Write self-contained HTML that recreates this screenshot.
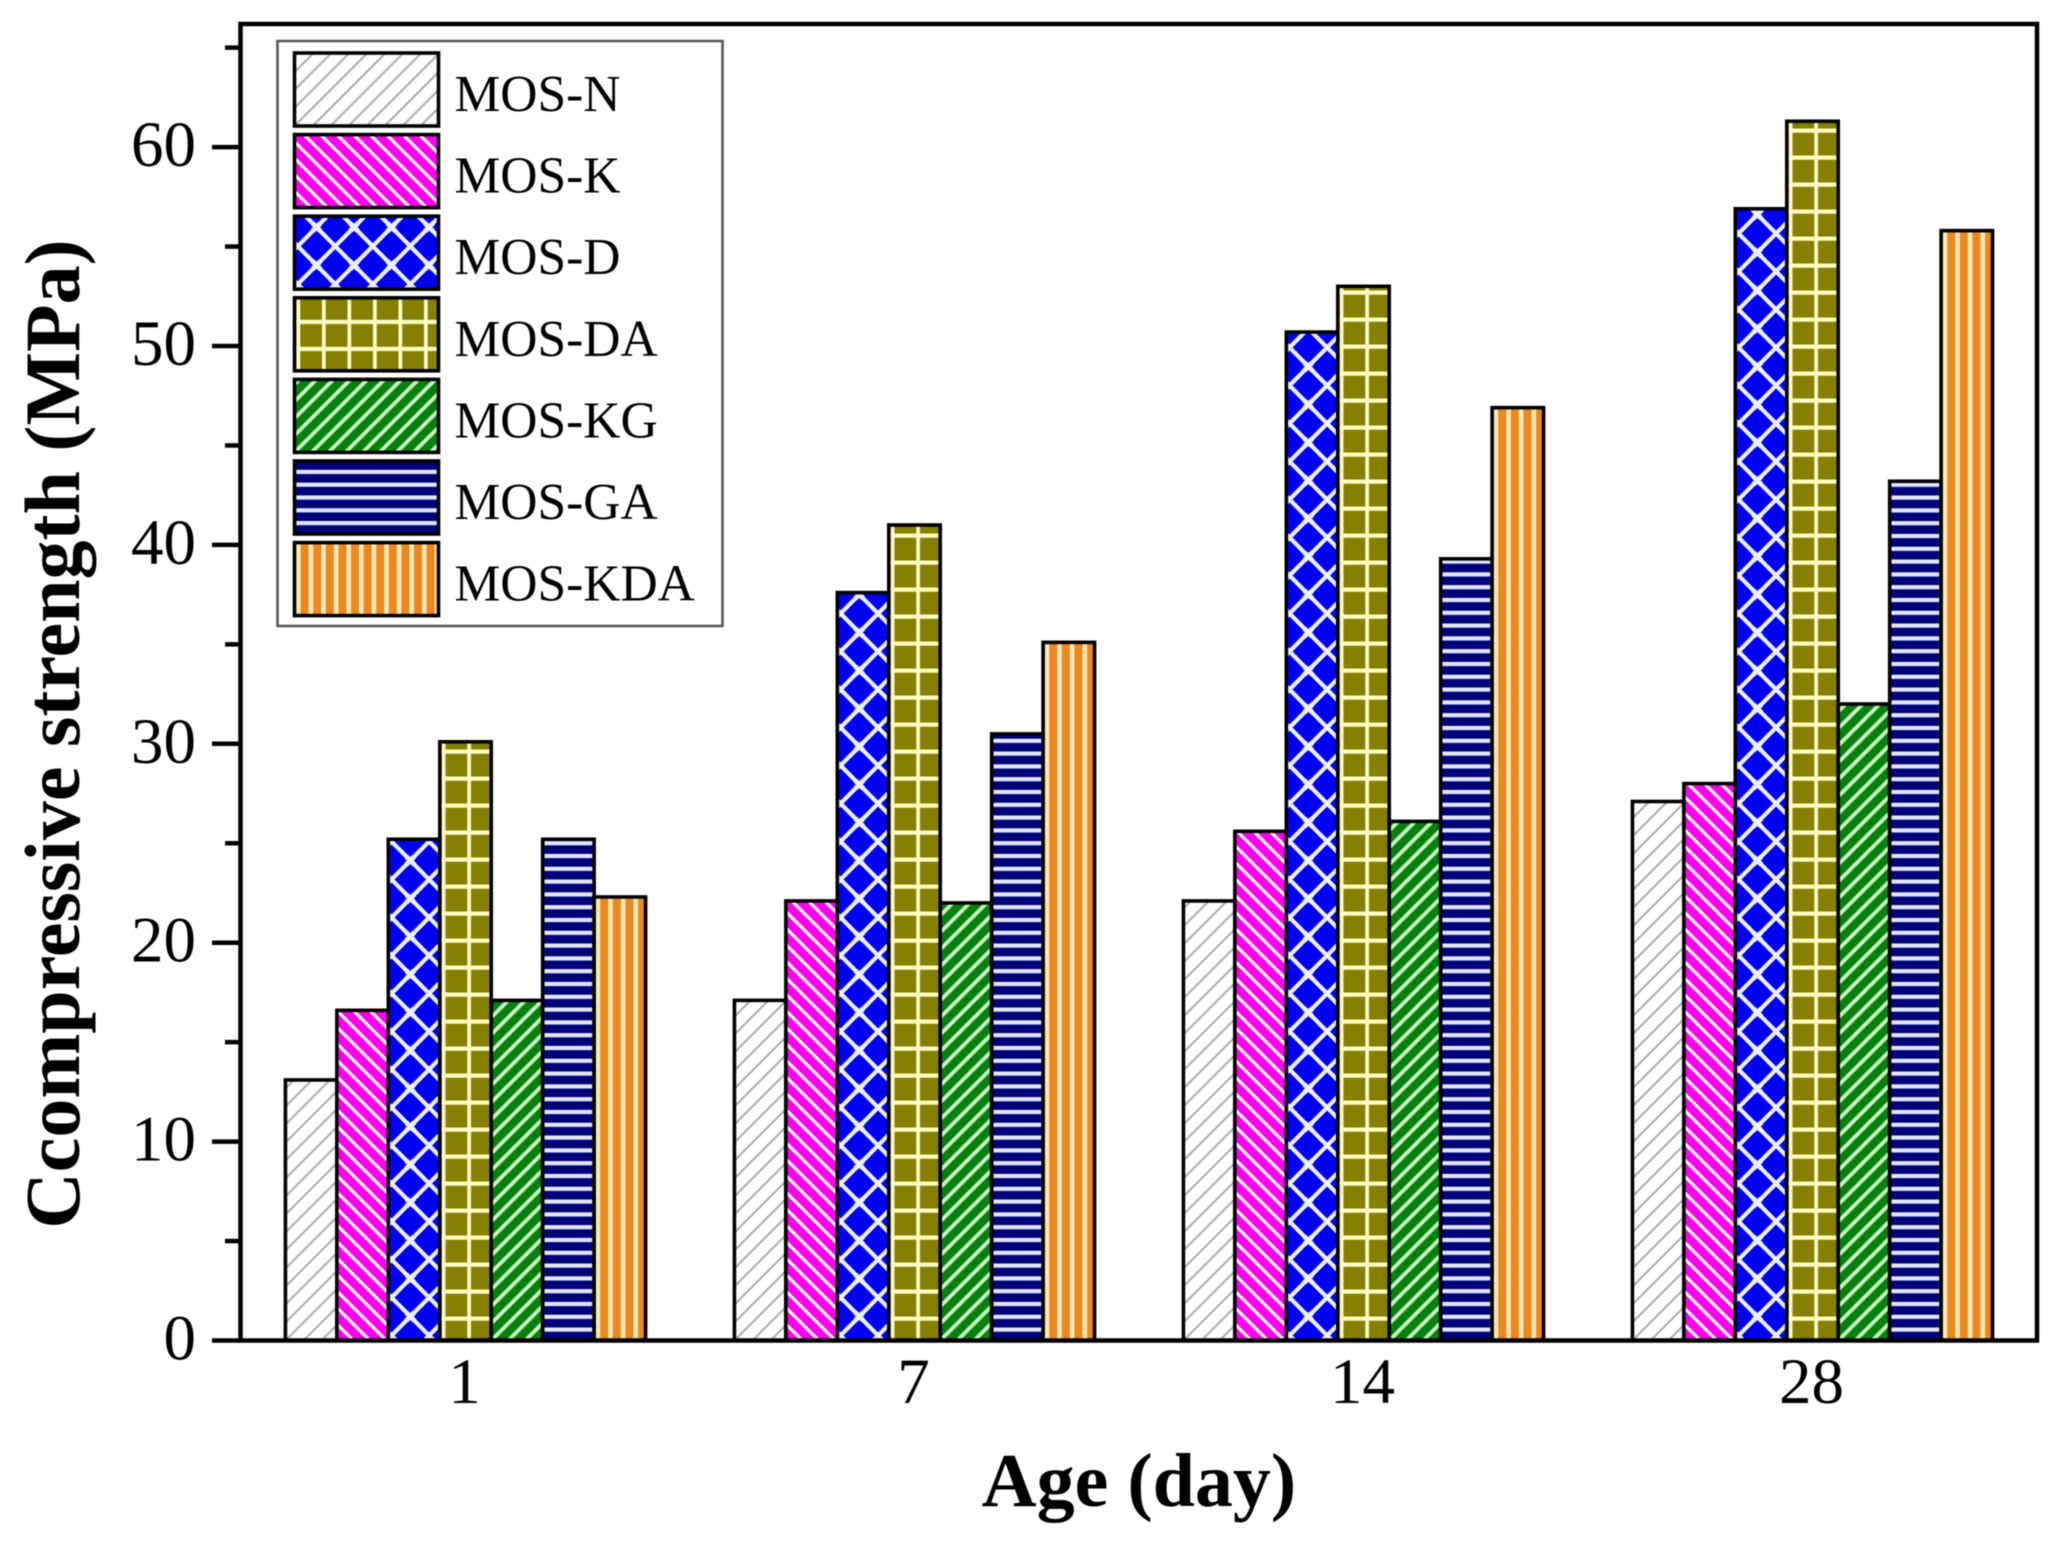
<!DOCTYPE html>
<html lang="en">
<head>
<meta charset="utf-8">
<title>Compressive strength by age</title>
<style>
  html, body { margin: 0; padding: 0; background: #fff; }
  #chart { display: block; width: 2053px; height: 1541px; filter: blur(0.6px); }
  text { font-family: "Liberation Serif", "Times New Roman", serif; fill: #000; }
</style>
</head>
<body>
<svg id="chart" xmlns="http://www.w3.org/2000/svg" width="2053" height="1541" viewBox="0 0 2053 1541">
  <defs>
    <pattern id="hatch-0" patternUnits="userSpaceOnUse" width="18" height="18">
      <rect width="18" height="18" fill="#fff"/>
      <path d="M-2 2L2 -2M0 18L18 0M16 20L20 16" stroke="#aaaaaa" stroke-width="2"/>
    </pattern>
    <pattern id="hatch-1" patternUnits="userSpaceOnUse" width="16.5" height="16.5">
      <rect width="16.5" height="16.5" fill="#ff00ee"/>
      <path d="M-2 14.5L2 18.5M0 0L16.5 16.5M14.5 -2L18.5 2" stroke="#ffffff" stroke-width="3.1"/>
    </pattern>
    <pattern id="hatch-2" patternUnits="userSpaceOnUse" width="37.5" height="38" patternTransform="translate(22 -24)">
      <rect width="37.5" height="38" fill="#0000f0"/>
      <path d="M0 0L37.5 38M0 38L37.5 0" stroke="#ecf0ff" stroke-width="4.2"/>
      <path d="M0 0L4 4M37.5 0L33.5 4M0 38L4 34M37.5 38L33.5 34" stroke="#ecf0ff" stroke-width="5"/>
    </pattern>
    <pattern id="hatch-3" patternUnits="userSpaceOnUse" width="25.5" height="27" patternTransform="translate(2 -24)">
      <rect width="25.5" height="27" fill="#858000"/>
      <path d="M1.5 0V27" stroke="#fffbd0" stroke-width="4.4"/>
      <path d="M0 1.5H25.5" stroke="#fffbc0" stroke-width="5.6"/>
    </pattern>
    <pattern id="hatch-4" patternUnits="userSpaceOnUse" width="17" height="17">
      <rect width="17" height="17" fill="#078010"/>
      <path d="M-2 2L2 -2M0 17L17 0M15 19L19 15" stroke="#c8ffc0" stroke-width="3.8"/>
    </pattern>
    <pattern id="hatch-5" patternUnits="userSpaceOnUse" width="12.8" height="12.8" patternTransform="translate(0 -11)">
      <rect width="12.8" height="12.8" fill="#000078"/>
      <rect y="-2" width="12.8" height="4.2" fill="#e4e6ff"/>
      <rect y="10.8" width="12.8" height="4.2" fill="#e4e6ff"/>
    </pattern>
    <pattern id="hatch-6" patternUnits="userSpaceOnUse" width="12.6" height="12.6" patternTransform="translate(1.5 0)">
      <rect width="12.6" height="12.6" fill="#ec8820"/>
      <rect x="0" width="4.6" height="12.6" fill="#ffe9b8"/>
    </pattern>
  </defs>

  <g id="bars"></g>
  <g id="ticks"></g>

  <rect x="240.5" y="24" width="1796.5" height="1316.5" fill="none" stroke="#000" stroke-width="4.5"/>

  <g id="y-labels"></g>
  <g id="x-labels"></g>

  <text x="1139" y="1506" text-anchor="middle" font-size="76" font-weight="bold">Age (day)</text>
  <text transform="translate(79 734) rotate(-90)" text-anchor="middle" font-size="78" font-weight="bold">Ccompressive strength (MPa)</text>

  <g>
    <rect x="277.5" y="41" width="445" height="585" fill="#fff" stroke="#555" stroke-width="2.5"/>
    <g id="legend-items"></g>
  </g>
</svg>

<script>
const categories = ["1", "7", "14", "28"];
const seriesNames = ["MOS-N", "MOS-K", "MOS-D", "MOS-DA", "MOS-KG", "MOS-GA", "MOS-KDA"];
const mosN = [13.1, 17.1, 22.1, 27.1];
const mosK = [16.6, 22.1, 25.6, 28.0];
const mosD = [25.2, 37.6, 50.7, 56.9];
const mosDA = [30.1, 41.0, 53.0, 61.3];
const mosKG = [17.1, 22.0, 26.1, 32.0];
const mosGA = [25.2, 30.5, 39.3, 43.2];
const mosKDA = [22.3, 35.1, 46.9, 55.8];
const yTickLabels = [0, 10, 20, 30, 40, 50, 60];
const yMinorTicks = [5, 15, 25, 35, 45, 55, 65];

const allSeries = [mosN, mosK, mosD, mosDA, mosKG, mosGA, mosKDA];

const NS = "http://www.w3.org/2000/svg";
const plotLeft = 240.5;
const plotBottom = 1340.5;
const unitHeight = 19.89;
const groupSpacing = 449;
const firstCenter = 465.5;
const barWidth = 51.45;

function yPos(v) { return plotBottom - v * unitHeight; }
function xCenter(i) { return firstCenter + i * groupSpacing; }
function xBar(i, s) { return xCenter(i) + (s - allSeries.length / 2) * barWidth; }

function make(tag, attrs, parent) {
  const el = document.createElementNS(NS, tag);
  for (const k in attrs) el.setAttribute(k, attrs[k]);
  parent.appendChild(el);
  return el;
}

const barsLayer = document.getElementById("bars");
allSeries.forEach(function (values, s) {
  values.forEach(function (v, i) {
    const left = xBar(i, s);
    const h = plotBottom - yPos(v);
    const wrap = make("g", { transform: "translate(" + left + " " + plotBottom + ")" }, barsLayer);
    
    
    const bar = make("rect", {
      x: 0, y: -h, width: barWidth, height: h,
      fill: "url(#hatch-" + s + ")", stroke: "#000", "stroke-width": 3.6
    }, wrap);
    
    
  });
});

const tickLayer = document.getElementById("ticks");
const yLabelLayer = document.getElementById("y-labels");
yTickLabels.forEach(function (v) {
  const tick = make("line", { x1: 212, x2: plotLeft, y1: yPos(v), y2: yPos(v), stroke: "#000", "stroke-width": 4.5 }, tickLayer);
  
  
  const label = make("text", { x: 196, y: yPos(v) + 19, "text-anchor": "end", "font-size": 65 }, yLabelLayer);
  label.textContent = String(v);
  
  
});
yMinorTicks.forEach(function (v) {
  const tick = make("line", { x1: 225, x2: plotLeft, y1: yPos(v), y2: yPos(v), stroke: "#000", "stroke-width": 4.5 }, tickLayer);
  
  
});

const xLabelLayer = document.getElementById("x-labels");
categories.forEach(function (c, i) {
  const label = make("text", { x: xCenter(i) - 1, y: 1403, "text-anchor": "middle", "font-size": 65 }, xLabelLayer);
  label.textContent = c;
  
  
});

const legendLayer = document.getElementById("legend-items");
seriesNames.forEach(function (name, s) {
  const top = 53 + s * 81.6;
  const wrap = make("g", { transform: "translate(294.5 " + (top + 73) + ")" }, legendLayer);
  
  
  const swatch = make("rect", {
    x: 0, y: -73, width: 144, height: 73,
    fill: "url(#hatch-" + s + ")", stroke: "#000", "stroke-width": 3.6
  }, wrap);
  
  
  const label = make("text", { x: 160, y: -15, "font-size": 51.5 }, wrap);
  label.textContent = name;
  
  
});
</script>
</body>
</html>
